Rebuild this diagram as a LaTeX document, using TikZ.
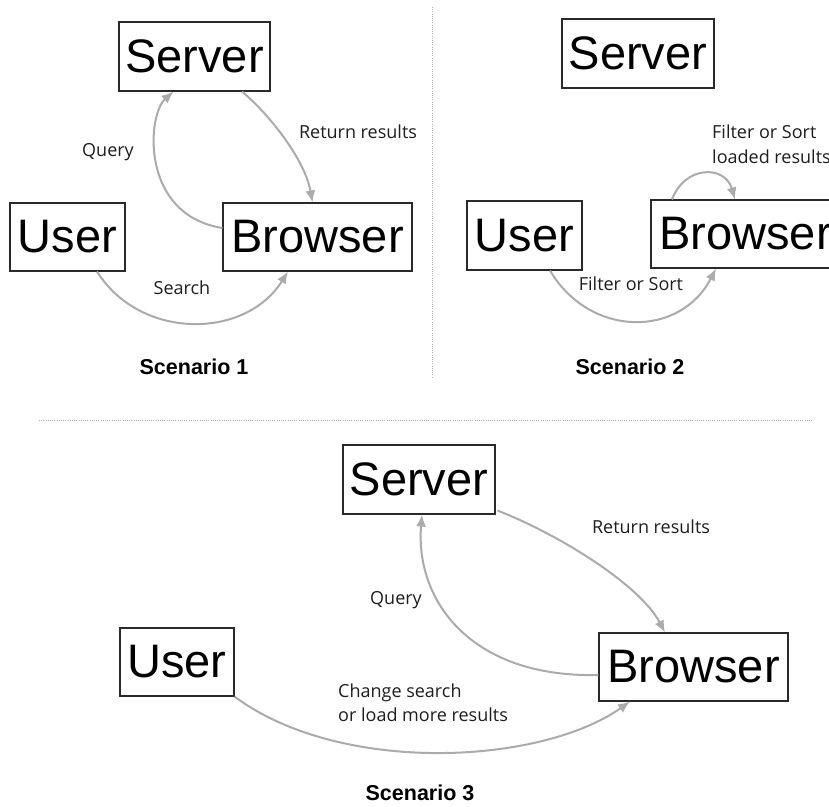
\documentclass[tikz,border=0pt]{standalone}
\usepackage{fontspec}
\setmainfont{Liberation Sans}
\newfontfamily\labfont{Open Sans}
\usetikzlibrary{arrows.meta,calc}
\definecolor{arrowgray}{HTML}{ABABAB}
\definecolor{boxline}{HTML}{2A2A2A}
\definecolor{txt}{HTML}{1E1E1E}
\definecolor{divgray}{HTML}{B0B0B0}
\tikzset{
  bigbox/.style={draw=boxline, line width=1.1pt, inner sep=0pt, text=black,
    font=\fontsize{47}{50}\selectfont, minimum height=68pt},
  flow/.style={draw=arrowgray, line width=2pt, -{Latex[length=12pt,width=10pt]}},
  lab/.style={text=txt, font=\labfont\fontsize{18}{24.5}\selectfont, inner sep=0pt},
  title/.style={text=black, font=\bfseries\fontsize{21.5}{24}\selectfont, inner sep=0pt},
  divider/.style={draw=divgray, line width=1pt, dash pattern=on 1pt off 1.2pt}
}
\begin{document}
\begin{tikzpicture}[x=1pt,y=-1pt]
\useasboundingbox (0,0) rectangle (829,806);
\clip (0,0) rectangle (829,806);
\fill[white] (0,0) rectangle (829,806);

% dividers
\coordinate (vt) at (432,7);
\coordinate (vb) at (432,378);
\coordinate (hl) at (39,420);
\coordinate (hr) at (813,420);
\draw[divider] (vt) -- (vb);
\draw[divider] (hl) -- (hr);

% ---------- Scenario 1 ----------
\node[bigbox, minimum width=151pt, minimum height=69pt] (s1) at (194.5,56.5) {Server};
\node[bigbox, minimum width=115pt] (u1) at (67.5,237) {User};
\node[bigbox, minimum width=189pt] (b1) at (317.5,237) {Browser};

\draw[flow] ([yshift=9pt]b1.west) .. controls (140,215) and (147,115) .. ([xshift=-21pt]s1.south);
\draw[flow] ([xshift=47.5pt]s1.south) .. controls (270,115) and (305,160) .. ([xshift=-5pt]b1.north);
\draw[flow] ([xshift=29.5pt]u1.south) .. controls (140,340) and (245,340) .. ([xshift=-29.5pt]b1.south);

\node[lab] (q1) at (108,152) {Query};
\node[lab] (r1) at (358,132) {Return results};
\node[lab] (se1) at (182,288) {Search};
\node[title] (t1) at (194,367) {Scenario 1};

% ---------- Scenario 2 ----------
\node[bigbox, minimum width=152pt, minimum height=69pt] (s2) at (638,53.5) {Server};
\node[bigbox, minimum width=115pt, minimum height=69pt] (u2) at (524.5,235.5) {User};
\node[bigbox, minimum width=189pt] (b2) at (745.5,234) {Browser};

\draw[flow] ([xshift=25.5pt]u2.south) .. controls (590,338) and (680,338) .. ([xshift=-29.5pt]b2.south);
\draw[flow] ([xshift=-73.5pt]b2.north) .. controls (685,165) and (725,165) .. ([xshift=-10.5pt]b2.north);

\node[lab, anchor=west, align=left] (f2) at (712,144) {Filter or Sort\\loaded results};
\node[lab] (g2) at (631,284) {Filter or Sort};
\node[title] (t2) at (630,367) {Scenario 2};

% ---------- Scenario 3 ----------
\node[bigbox, minimum width=152pt, minimum height=69pt] (s3) at (419,479.5) {Server};
\node[bigbox, minimum width=114pt] (u3) at (177,662) {User};
\node[bigbox, minimum width=189pt] (b3) at (693.5,667) {Browser};

\draw[flow] ([yshift=-8pt]b3.west) .. controls (470,678) and (415,600) .. ([xshift=3pt]s3.south);
\draw[flow] ([xshift=2pt,yshift=4pt]s3.south east) .. controls (560,535) and (640,585) .. ([xshift=-28.5pt]b3.north);
\draw[flow] (u3.south east) .. controls (340,775) and (540,765) .. ([xshift=-63.5pt]b3.south);

\node[lab] (q3) at (396,600) {Query};
\node[lab] (r3) at (651,527) {Return results};
\node[lab, anchor=west, align=left] (c3) at (338,702.5) {Change search\\or load more results};
\node[title] (t3) at (420,793) {Scenario 3};
\end{tikzpicture}
\end{document}
